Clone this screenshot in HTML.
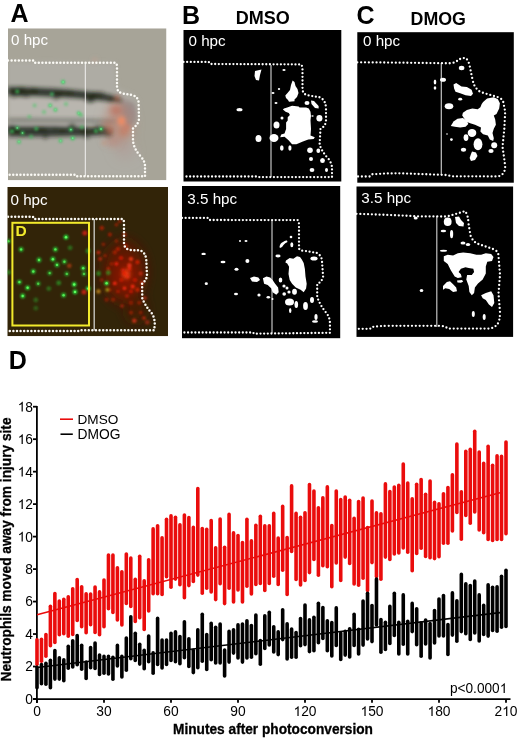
<!DOCTYPE html><html><head><meta charset="utf-8"><title>Figure</title><style>
html,body{margin:0;padding:0;background:#fff;width:520px;height:739px;overflow:hidden}
svg{display:block;will-change:transform}
text{font-family:"Liberation Sans",sans-serif}
.b{font-weight:bold}
</style></head><body>
<svg width="520" height="739" viewBox="0 0 520 739">
<defs>
<filter id="bl1" x="-50%" y="-50%" width="200%" height="200%"><feGaussianBlur stdDeviation="1"/></filter>
<filter id="bl2" x="-50%" y="-50%" width="200%" height="200%"><feGaussianBlur stdDeviation="2"/></filter>
<filter id="bl3" x="-50%" y="-50%" width="200%" height="200%"><feGaussianBlur stdDeviation="3.5"/></filter>
<filter id="bl5" x="-50%" y="-50%" width="200%" height="200%"><feGaussianBlur stdDeviation="6"/></filter>
<clipPath id="cA1"><rect x="8" y="28.3" width="158.5" height="152"/></clipPath>
<clipPath id="cA2"><rect x="7.3" y="187" width="160.7" height="149.2"/></clipPath>
</defs>
<text x="10.5" y="21.9" font-size="25" class="b">A</text>
<text x="182" y="23.5" font-size="25" class="b">B</text>
<text x="356.5" y="23.5" font-size="25" class="b">C</text>
<text x="235.8" y="23.5" font-size="18" class="b">DMSO</text>
<text x="410.6" y="25" font-size="17.8" class="b">DMOG</text>
<text x="8.8" y="368.6" font-size="25" class="b">D</text>
<g clip-path="url(#cA1)">
<rect x="8" y="28.3" width="158.5" height="152" fill="#a7a498"/>
<g filter="url(#bl2)">
<path d="M8,61 L115,63 L117,88 L133,95 L139,103 L139,119 L133,128 L133,141 L145,166 L145,176 L8,176Z" fill="#aeaca4"/>
<path d="M8,97 C50,98 90,100 118,104 L118,118 C80,118 40,117 8,117Z" fill="#b9b6af"/>
<path d="M120,98 L135,103 L137,120 L130,127 L124,124Z" fill="#928c8a" opacity="0.8"/>
</g>
<filter id="bl15" x="-20%" y="-50%" width="140%" height="200%"><feGaussianBlur stdDeviation="2.1"/></filter>
<g filter="url(#bl15)">
<path d="M8,87 C40,87.5 70,89.5 95,92.5 C108,94 116,96 121,99 L121,102.5 C113,101.5 104,100.5 95,99.5 C70,97 40,95.5 8,95Z" fill="#1a2116" opacity="0.85"/>
<path d="M8,118.8 C50,119 90,119 118,120.5 L118,122 C80,121.8 40,121.6 8,121.4Z" fill="#4a4c45" opacity="0.6"/>
<path d="M8,127 C40,126.5 80,127 110,128.5 L113,130.5 L111,135 C80,136 40,137 8,136.5Z" fill="#1a2116" opacity="0.82"/>
<ellipse cx="34.2" cy="130.1" rx="3.9" ry="1.6" fill="#141a10" opacity="0.31"/>
<ellipse cx="100.1" cy="128.6" rx="3.6" ry="2.3" fill="#141a10" opacity="0.46"/>
<ellipse cx="102.7" cy="127.7" rx="4.2" ry="2.5" fill="#141a10" opacity="0.33"/>
<ellipse cx="91.4" cy="96.6" rx="4.5" ry="1.9" fill="#141a10" opacity="0.54"/>
<ellipse cx="109.2" cy="134.7" rx="3.2" ry="2.7" fill="#141a10" opacity="0.48"/>
<ellipse cx="110.9" cy="100.1" rx="3.5" ry="1.9" fill="#141a10" opacity="0.57"/>
<ellipse cx="93.7" cy="130.6" rx="3.7" ry="2.3" fill="#141a10" opacity="0.46"/>
<ellipse cx="33.6" cy="91.2" rx="4.6" ry="3.0" fill="#141a10" opacity="0.57"/>
<ellipse cx="25.9" cy="95.2" rx="4.1" ry="1.8" fill="#141a10" opacity="0.63"/>
<ellipse cx="71.1" cy="126.7" rx="2.3" ry="2.7" fill="#141a10" opacity="0.46"/>
<ellipse cx="24.6" cy="90.4" rx="2.1" ry="2.4" fill="#141a10" opacity="0.32"/>
<ellipse cx="87.0" cy="135.7" rx="3.5" ry="3.0" fill="#141a10" opacity="0.42"/>
<ellipse cx="16.5" cy="92.5" rx="4.9" ry="1.9" fill="#141a10" opacity="0.41"/>
<ellipse cx="83.9" cy="129.7" rx="4.9" ry="2.8" fill="#141a10" opacity="0.45"/>
<ellipse cx="58.6" cy="94.1" rx="3.9" ry="2.9" fill="#141a10" opacity="0.50"/>
<ellipse cx="55.4" cy="128.6" rx="3.3" ry="1.9" fill="#141a10" opacity="0.42"/>
<ellipse cx="45.3" cy="136.9" rx="2.1" ry="2.4" fill="#141a10" opacity="0.55"/>
<ellipse cx="14.6" cy="131.1" rx="3.8" ry="1.9" fill="#141a10" opacity="0.50"/>
<ellipse cx="72.8" cy="126.2" rx="2.8" ry="2.2" fill="#141a10" opacity="0.54"/>
<ellipse cx="43.2" cy="129.4" rx="4.5" ry="1.9" fill="#141a10" opacity="0.61"/>
<ellipse cx="19.5" cy="94.5" rx="2.9" ry="1.8" fill="#141a10" opacity="0.62"/>
<ellipse cx="34.3" cy="90.0" rx="2.3" ry="2.0" fill="#141a10" opacity="0.43"/>
<ellipse cx="99.7" cy="95.7" rx="2.2" ry="2.6" fill="#141a10" opacity="0.39"/>
<ellipse cx="70.5" cy="92.7" rx="3.6" ry="1.8" fill="#141a10" opacity="0.62"/>
<ellipse cx="100.2" cy="93.6" rx="4.4" ry="2.0" fill="#141a10" opacity="0.35"/>
<ellipse cx="40.1" cy="129.0" rx="3.9" ry="1.9" fill="#141a10" opacity="0.53"/>
<ellipse cx="11.9" cy="128.2" rx="4.8" ry="2.8" fill="#141a10" opacity="0.69"/>
<ellipse cx="55.8" cy="97.6" rx="2.1" ry="2.2" fill="#141a10" opacity="0.60"/>
<ellipse cx="90.3" cy="99.7" rx="4.6" ry="2.8" fill="#141a10" opacity="0.69"/>
<ellipse cx="21.2" cy="89.7" rx="4.7" ry="2.8" fill="#141a10" opacity="0.53"/>
<ellipse cx="9.4" cy="127.9" rx="2.7" ry="1.5" fill="#141a10" opacity="0.51"/>
<ellipse cx="13.9" cy="95.0" rx="2.8" ry="2.8" fill="#141a10" opacity="0.49"/>
<ellipse cx="94.1" cy="94.7" rx="2.5" ry="2.7" fill="#141a10" opacity="0.67"/>
<ellipse cx="96.7" cy="126.1" rx="2.1" ry="1.9" fill="#141a10" opacity="0.41"/>
<ellipse cx="66.0" cy="93.7" rx="4.6" ry="2.7" fill="#141a10" opacity="0.32"/>
<ellipse cx="13.5" cy="91.3" rx="3.5" ry="2.2" fill="#141a10" opacity="0.36"/>
<ellipse cx="15.9" cy="130.3" rx="3.1" ry="1.8" fill="#141a10" opacity="0.43"/>
<ellipse cx="21.6" cy="133.9" rx="4.4" ry="2.4" fill="#141a10" opacity="0.32"/>
<ellipse cx="58.7" cy="95.3" rx="3.9" ry="2.1" fill="#141a10" opacity="0.45"/>
<ellipse cx="62.6" cy="130.6" rx="3.4" ry="1.9" fill="#141a10" opacity="0.51"/>
</g>
<g filter="url(#bl5)">
<ellipse cx="119" cy="124" rx="14" ry="22" fill="#b88070" opacity="0.55"/>
<ellipse cx="125" cy="150" rx="10" ry="10" fill="#b09590" opacity="0.4"/>
</g>
<g filter="url(#bl3)">
<ellipse cx="116" cy="110" rx="6" ry="5" fill="#c06048" opacity="0.7"/>
<ellipse cx="124" cy="131" rx="5" ry="5" fill="#d07050" opacity="0.7"/>
<ellipse cx="108" cy="126" rx="5" ry="4" fill="#b06048" opacity="0.6"/>
<ellipse cx="112" cy="142" rx="6" ry="4" fill="#c08070" opacity="0.5"/>
<ellipse cx="130" cy="112" rx="4" ry="5" fill="#a08080" opacity="0.5"/>
</g>
<g filter="url(#bl2)">
<ellipse cx="121.5" cy="121" rx="4" ry="4.5" fill="#f08a64"/>
<circle cx="117" cy="98" r="2.5" fill="#c86a50" opacity="0.8"/>
<circle cx="110" cy="131" r="2.2" fill="#d06a50" opacity="0.8"/>
<circle cx="127" cy="127" r="2.2" fill="#d87058" opacity="0.8"/>
<circle cx="95" cy="60" r="2" fill="#d0a090" opacity="0.7"/>
<circle cx="104" cy="143" r="2" fill="#d09070" opacity="0.7"/>
</g>
<g filter="url(#bl1)">
<circle cx="63.1" cy="82" r="2.2" fill="#3cc860" opacity="0.85"/>
<circle cx="17.3" cy="91.5" r="2.2" fill="#3cc860" opacity="0.59"/>
<circle cx="51.9" cy="94.1" r="2.2" fill="#3cc860" opacity="0.59"/>
<circle cx="50.2" cy="105.4" r="2.2" fill="#3cc860" opacity="0.68"/>
<circle cx="55.4" cy="109.7" r="2.2" fill="#3cc860" opacity="0.68"/>
<circle cx="34.6" cy="105.4" r="2.2" fill="#3cc860" opacity="0.42"/>
<circle cx="78.7" cy="113.1" r="2.2" fill="#3cc860" opacity="0.68"/>
<circle cx="29.4" cy="116.6" r="2.2" fill="#3cc860" opacity="0.42"/>
<circle cx="17.3" cy="127.9" r="2.2" fill="#3cc860" opacity="0.68"/>
<circle cx="22.5" cy="133" r="2.2" fill="#3cc860" opacity="0.68"/>
<circle cx="12.1" cy="131.3" r="2.2" fill="#3cc860" opacity="0.59"/>
<circle cx="36.3" cy="128.7" r="2.2" fill="#3cc860" opacity="0.59"/>
<circle cx="70.9" cy="129.6" r="2.2" fill="#3cc860" opacity="0.85"/>
<circle cx="72.7" cy="138.2" r="2.2" fill="#3cc860" opacity="0.85"/>
<circle cx="19" cy="141.7" r="2.2" fill="#3cc860" opacity="0.68"/>
<circle cx="60.6" cy="140.8" r="2.2" fill="#3cc860" opacity="0.68"/>
<circle cx="31.1" cy="136.5" r="2.2" fill="#3cc860" opacity="0.51"/>
<circle cx="80.9" cy="115" r="2.2" fill="#3cc860" opacity="0.51"/>
<circle cx="81.8" cy="127.3" r="2.2" fill="#3cc860" opacity="0.51"/>
<circle cx="101" cy="129" r="2.2" fill="#3cc860" opacity="0.85"/>
<circle cx="96" cy="131" r="2.2" fill="#3cc860" opacity="0.59"/>
<circle cx="44" cy="112" r="2.2" fill="#3cc860" opacity="0.42"/>
<circle cx="66" cy="104" r="2.2" fill="#3cc860" opacity="0.42"/>
</g>
<circle cx="63.1" cy="82" r="0.9" fill="#70f090" opacity="0.80"/>
<circle cx="50.2" cy="105.4" r="0.9" fill="#70f090" opacity="0.64"/>
<circle cx="55.4" cy="109.7" r="0.9" fill="#70f090" opacity="0.64"/>
<circle cx="78.7" cy="113.1" r="0.9" fill="#70f090" opacity="0.64"/>
<circle cx="17.3" cy="127.9" r="0.9" fill="#70f090" opacity="0.64"/>
<circle cx="22.5" cy="133" r="0.9" fill="#70f090" opacity="0.64"/>
<circle cx="70.9" cy="129.6" r="0.9" fill="#70f090" opacity="0.80"/>
<circle cx="72.7" cy="138.2" r="0.9" fill="#70f090" opacity="0.80"/>
<circle cx="19" cy="141.7" r="0.9" fill="#70f090" opacity="0.64"/>
<circle cx="60.6" cy="140.8" r="0.9" fill="#70f090" opacity="0.64"/>
<circle cx="101" cy="129" r="0.9" fill="#70f090" opacity="0.80"/>
<line x1="85.3" y1="63" x2="85.3" y2="176" stroke="#f2f2f0" stroke-width="1"/>
<path d="M8,60.4 L33,60.4 L34,62.8 L115,62.8 Q117,63 117,67 L117,88 Q118,93 124,93.7 L132,95 Q138.5,97 138.6,103 L139,119 Q138,125 133,128 L133,141 Q134,149 140,155.5 Q145,161 145,166 L145,176.3 L76,176.3 L75,174.8 L8,174.8" fill="none" stroke="#fbfaf5" stroke-width="2.5" stroke-linecap="round" stroke-dasharray="0 3.6"/>
<text x="11.0" y="44.7" font-size="15.2" fill="#fff">0 hpc</text>
</g>
<g clip-path="url(#cA2)">
<rect x="7.3" y="187" width="160.7" height="149.2" fill="#322408"/>
<g filter="url(#bl5)">
<ellipse cx="124" cy="272" rx="22" ry="32" fill="#5c1a06" opacity="0.9"/>
<ellipse cx="126" cy="276" rx="14" ry="18" fill="#901806" opacity="0.8"/>
<ellipse cx="136" cy="310" rx="10" ry="14" fill="#4a1606" opacity="0.8"/>
</g>
<g filter="url(#bl2)"><ellipse cx="126" cy="274" rx="4" ry="5" fill="#ff4a18" opacity="0.85"/></g>
<g filter="url(#bl1)">
<circle cx="101.8" cy="228" r="2.3" fill="#d81c08" opacity="0.63"/>
<circle cx="109.9" cy="234.5" r="2.0" fill="#d81c08" opacity="0.63"/>
<circle cx="116.4" cy="224.8" r="1.7" fill="#e82008" opacity="0.55"/>
<circle cx="116.4" cy="241" r="1.7" fill="#e82008" opacity="0.49"/>
<circle cx="98.5" cy="252.4" r="2.0" fill="#ff2a10" opacity="0.64"/>
<circle cx="100.1" cy="258.9" r="2.1" fill="#ff2a10" opacity="0.52"/>
<circle cx="114.8" cy="252.4" r="2.1" fill="#d81c08" opacity="0.57"/>
<circle cx="118" cy="249.1" r="2.1" fill="#e82008" opacity="0.62"/>
<circle cx="111.5" cy="263.8" r="1.6" fill="#ff2a10" opacity="0.47"/>
<circle cx="116.4" cy="263.8" r="2.1" fill="#e82008" opacity="0.87"/>
<circle cx="131" cy="258.9" r="2.0" fill="#ff3818" opacity="0.89"/>
<circle cx="137.5" cy="262.2" r="2.1" fill="#e82008" opacity="0.77"/>
<circle cx="129.4" cy="268.7" r="2.0" fill="#ff2a10" opacity="0.70"/>
<circle cx="140.8" cy="273.5" r="2.2" fill="#ff2a10" opacity="0.50"/>
<circle cx="121.3" cy="280" r="2.0" fill="#e82008" opacity="0.61"/>
<circle cx="114.8" cy="283.3" r="1.9" fill="#ff2a10" opacity="0.90"/>
<circle cx="118" cy="291.4" r="1.7" fill="#d81c08" opacity="0.61"/>
<circle cx="124.5" cy="288.2" r="1.8" fill="#ff2a10" opacity="0.92"/>
<circle cx="132.7" cy="286.5" r="2.0" fill="#ff2a10" opacity="0.94"/>
<circle cx="131" cy="291.4" r="1.9" fill="#d81c08" opacity="0.80"/>
<circle cx="137.5" cy="289.8" r="2.2" fill="#e82008" opacity="0.69"/>
<circle cx="101.8" cy="280" r="1.8" fill="#ff2a10" opacity="0.42"/>
<circle cx="106.6" cy="299.6" r="2.2" fill="#d81c08" opacity="0.45"/>
<circle cx="113.1" cy="299.6" r="2.2" fill="#e82008" opacity="0.42"/>
<circle cx="131" cy="302.8" r="2.2" fill="#d81c08" opacity="0.46"/>
<circle cx="139.2" cy="302.8" r="2.0" fill="#e82008" opacity="0.47"/>
<circle cx="131" cy="312.6" r="1.9" fill="#e82008" opacity="0.51"/>
<circle cx="140.8" cy="312.6" r="1.9" fill="#d81c08" opacity="0.47"/>
<circle cx="134.3" cy="320.7" r="2.3" fill="#ff3818" opacity="0.66"/>
<circle cx="147.3" cy="322.3" r="2.4" fill="#ff3818" opacity="0.42"/>
<circle cx="124.5" cy="273.5" r="1.9" fill="#e82008" opacity="0.90"/>
<circle cx="127.8" cy="276.8" r="1.6" fill="#ff2a10" opacity="0.65"/>
<circle cx="122.9" cy="270.3" r="1.8" fill="#d81c08" opacity="0.87"/>
<circle cx="129.4" cy="265.4" r="2.3" fill="#ff3818" opacity="0.74"/>
<circle cx="108.3" cy="268.7" r="1.7" fill="#ff2a10" opacity="0.56"/>
<circle cx="105" cy="255.7" r="1.6" fill="#e82008" opacity="0.51"/>
<circle cx="103.4" cy="244.3" r="1.7" fill="#d81c08" opacity="0.56"/>
<circle cx="124.5" cy="234.5" r="2.3" fill="#e82008" opacity="0.46"/>
<circle cx="119.6" cy="221.5" r="1.8" fill="#e82008" opacity="0.48"/>
<circle cx="126" cy="246" r="2.2" fill="#e82008" opacity="0.46"/>
<circle cx="121" cy="258" r="2.1" fill="#e82008" opacity="0.74"/>
<circle cx="135" cy="280" r="2.1" fill="#d81c08" opacity="0.75"/>
<circle cx="127" cy="296" r="1.7" fill="#ff2a10" opacity="0.55"/>
<circle cx="145" cy="298" r="1.8" fill="#ff3818" opacity="0.59"/>
<circle cx="142" cy="283" r="1.9" fill="#ff3818" opacity="0.64"/>
<circle cx="110" cy="290" r="1.8" fill="#d81c08" opacity="0.46"/>
<circle cx="122" cy="306" r="1.7" fill="#ff2a10" opacity="0.54"/>
<circle cx="144" cy="318" r="1.8" fill="#ff2a10" opacity="0.64"/>
</g>
<g filter="url(#bl1)">
<circle cx="66" cy="237.2" r="2.4" fill="#28d838" opacity="1.00"/>
<circle cx="21.1" cy="249.4" r="2.4" fill="#28d838" opacity="0.80"/>
<circle cx="55.4" cy="249.4" r="2.4" fill="#28d838" opacity="0.80"/>
<circle cx="70.1" cy="247.8" r="2.4" fill="#28d838" opacity="0.40"/>
<circle cx="39" cy="260" r="2.4" fill="#28d838" opacity="0.80"/>
<circle cx="52.9" cy="259.2" r="2.4" fill="#28d838" opacity="0.90"/>
<circle cx="57" cy="264.9" r="2.4" fill="#28d838" opacity="0.80"/>
<circle cx="64.4" cy="261.7" r="2.4" fill="#28d838" opacity="0.70"/>
<circle cx="83.2" cy="268.2" r="2.4" fill="#28d838" opacity="0.80"/>
<circle cx="33.3" cy="271.5" r="2.4" fill="#28d838" opacity="0.80"/>
<circle cx="49.7" cy="273.1" r="2.4" fill="#28d838" opacity="0.60"/>
<circle cx="66.8" cy="273.9" r="2.4" fill="#28d838" opacity="0.60"/>
<circle cx="84" cy="273.9" r="2.4" fill="#28d838" opacity="0.60"/>
<circle cx="19.4" cy="282.1" r="2.4" fill="#28d838" opacity="0.80"/>
<circle cx="38.2" cy="283.7" r="2.4" fill="#28d838" opacity="0.60"/>
<circle cx="58.7" cy="282.9" r="2.4" fill="#28d838" opacity="0.50"/>
<circle cx="74.2" cy="284.5" r="2.4" fill="#28d838" opacity="1.00"/>
<circle cx="27.6" cy="287.8" r="2.4" fill="#28d838" opacity="0.90"/>
<circle cx="75" cy="291.9" r="2.4" fill="#28d838" opacity="1.00"/>
<circle cx="22.7" cy="296" r="2.4" fill="#28d838" opacity="0.90"/>
<circle cx="63.6" cy="295.2" r="2.4" fill="#28d838" opacity="0.80"/>
<circle cx="88.1" cy="288.6" r="2.4" fill="#28d838" opacity="0.90"/>
<circle cx="48.8" cy="288.6" r="2.4" fill="#28d838" opacity="0.40"/>
<circle cx="35.8" cy="300" r="2.4" fill="#28d838" opacity="0.35"/>
<circle cx="35.8" cy="308.2" r="2.4" fill="#28d838" opacity="0.30"/>
<circle cx="8.5" cy="241.2" r="2.4" fill="#28d838" opacity="0.60"/>
<circle cx="8.5" cy="272.3" r="2.4" fill="#28d838" opacity="0.50"/>
<circle cx="88" cy="251" r="2.4" fill="#28d838" opacity="0.50"/>
<circle cx="106.6" cy="283.3" r="2.4" fill="#28d838" opacity="0.90"/>
<circle cx="98.5" cy="273.5" r="2.4" fill="#28d838" opacity="0.50"/>
<circle cx="108.3" cy="272.7" r="2.4" fill="#28d838" opacity="0.50"/>
</g>
<g>
<circle cx="66" cy="237.2" r="1.2" fill="#60ff60" opacity="1.00"/>
<circle cx="21.1" cy="249.4" r="1.2" fill="#60ff60" opacity="0.80"/>
<circle cx="55.4" cy="249.4" r="1.2" fill="#60ff60" opacity="0.80"/>
<circle cx="39" cy="260" r="1.2" fill="#60ff60" opacity="0.80"/>
<circle cx="52.9" cy="259.2" r="1.2" fill="#60ff60" opacity="0.90"/>
<circle cx="57" cy="264.9" r="1.2" fill="#60ff60" opacity="0.80"/>
<circle cx="64.4" cy="261.7" r="1.2" fill="#60ff60" opacity="0.70"/>
<circle cx="83.2" cy="268.2" r="1.2" fill="#60ff60" opacity="0.80"/>
<circle cx="33.3" cy="271.5" r="1.2" fill="#60ff60" opacity="0.80"/>
<circle cx="49.7" cy="273.1" r="1.2" fill="#60ff60" opacity="0.60"/>
<circle cx="66.8" cy="273.9" r="1.2" fill="#60ff60" opacity="0.60"/>
<circle cx="84" cy="273.9" r="1.2" fill="#60ff60" opacity="0.60"/>
<circle cx="19.4" cy="282.1" r="1.2" fill="#60ff60" opacity="0.80"/>
<circle cx="38.2" cy="283.7" r="1.2" fill="#60ff60" opacity="0.60"/>
<circle cx="74.2" cy="284.5" r="1.2" fill="#60ff60" opacity="1.00"/>
<circle cx="27.6" cy="287.8" r="1.2" fill="#60ff60" opacity="0.90"/>
<circle cx="75" cy="291.9" r="1.2" fill="#60ff60" opacity="1.00"/>
<circle cx="22.7" cy="296" r="1.2" fill="#60ff60" opacity="0.90"/>
<circle cx="63.6" cy="295.2" r="1.2" fill="#60ff60" opacity="0.80"/>
<circle cx="88.1" cy="288.6" r="1.2" fill="#60ff60" opacity="0.90"/>
<circle cx="8.5" cy="241.2" r="1.2" fill="#60ff60" opacity="0.60"/>
<circle cx="106.6" cy="283.3" r="1.2" fill="#60ff60" opacity="0.90"/>
</g>
<g filter="url(#bl1)"><circle cx="84.8" cy="233" r="2.5" fill="#e02010" opacity="0.8"/><circle cx="69.3" cy="265.8" r="2.3" fill="#c04010" opacity="0.7"/><circle cx="84" cy="291.9" r="2.5" fill="#e02010" opacity="0.8"/><circle cx="107.4" cy="289.8" r="2" fill="#c0c020" opacity="0.7"/><circle cx="98.5" cy="291.4" r="2.2" fill="#e0a020" opacity="0.7"/></g>
<rect x="12.4" y="222.8" width="76.6" height="102.7" fill="none" stroke="#f2ea2c" stroke-width="2"/>
<text x="15.4" y="236.3" font-size="15.5" class="b" fill="#f2ea2c">D</text>
<line x1="94.2" y1="219" x2="94.2" y2="330.5" stroke="#d0d0cc" stroke-width="1.3"/>
<path d="M8,216.7 L33,216.7 L34,219 L122.6,219 Q124,220 124,223 L124,245 Q126,250 131,250 L140.6,250.5 Q146,253 146.3,260.6 L147,275.8 Q146,281 142.1,283.3 L142.3,298.5 Q146,307 152,313.6 Q154.8,318 154.8,325 L154,330.3 L80,330.3 L79,331 L8,331" fill="none" stroke="#fbfaf5" stroke-width="2.5" stroke-linecap="round" stroke-dasharray="0 3.6"/>
<text x="10.5" y="204.8" font-size="15.2" fill="#fff">0 hpc</text>
</g>
<rect x="183.5" y="30" width="157.8" height="151.5" fill="#000"/>
<rect x="182" y="186" width="158.2" height="152.2" fill="#000"/>
<rect x="357.3" y="32.2" width="156.5" height="150.5" fill="#000"/>
<rect x="356.5" y="186.5" width="156.6" height="150.4" fill="#000"/>
<line x1="271" y1="65" x2="271" y2="177" stroke="#c4c4c4" stroke-width="1.2"/>
<path d="M287.2,107.5 L292.1,105.8 L298.6,106.4 L299.6,107.5 L306.1,107.5 L308.8,108.5 L310.5,111.8 L311,116.1 L310.5,120.5 L311,129.1 L310.5,135.6 L314.8,137.2 L313.7,138.9 L308.3,139.4 L302.9,141.6 L296.4,144.3 L292.1,144.3 L288.3,139.9 L284.5,136.7 L280.2,137.2 L281.2,134.5 L284.5,133.4 L286.1,129.1 L286.1,122.6 L287.7,120.5 L287.7,117.2 L289.9,115 L288.8,112.9 L285.6,111.8 L282.9,109.6 L284,108.5Z" fill="#fff"/>
<path d="M292.6,80.5 L294.5,82 L295.5,86 L297.5,89 L298.5,93 L297,97 L294.5,99.5 L294.5,101.3 L289,101.8 L288,100 L286,98 L285.3,95.5 L287.5,93 L290,90 L291,85Z" fill="#fff"/>
<path d="M255,71 L261.5,69.6 L260,75 L259,80.4 L256,80 L254.5,76Z" fill="#fff"/>
<ellipse cx="258.5" cy="138.5" rx="3" ry="3.5" fill="#fff"/>
<ellipse cx="274" cy="138" rx="4.5" ry="4" fill="#fff"/>
<ellipse cx="276.5" cy="125" rx="3" ry="3.5" fill="#fff"/>
<ellipse cx="307" cy="103" rx="2.5" ry="2" fill="#fff"/>
<path d="M311,100.4 L314,101 L318.6,106 L318.6,108.5 L315,108 L311.5,104Z" fill="#fff"/>
<ellipse cx="319.4" cy="118.2" rx="3" ry="3.3" fill="#fff"/>
<ellipse cx="281.8" cy="148" rx="1.8" ry="2.8" fill="#fff"/>
<ellipse cx="289.9" cy="148" rx="1.6" ry="2.8" fill="#fff"/>
<ellipse cx="310" cy="150.2" rx="2.8" ry="2.7" fill="#fff"/>
<ellipse cx="318.3" cy="150.8" rx="1.9" ry="2.2" fill="#fff"/>
<ellipse cx="311" cy="159" rx="2" ry="2" fill="#fff"/>
<ellipse cx="322.5" cy="160.5" rx="2.4" ry="2.5" fill="#fff"/>
<ellipse cx="312" cy="170" rx="2.4" ry="2" fill="#fff"/>
<ellipse cx="326.5" cy="170" rx="1.5" ry="2" fill="#fff"/>
<ellipse cx="239.5" cy="109.7" rx="3" ry="1.6" fill="#fff"/>
<ellipse cx="273" cy="93" rx="1.5" ry="1" fill="#fff"/>
<ellipse cx="284" cy="70" rx="1.6" ry="1" fill="#fff"/>
<ellipse cx="279" cy="89" rx="1.2" ry="1" fill="#fff"/>
<ellipse cx="276" cy="103" rx="1.5" ry="1" fill="#fff"/>
<ellipse cx="282" cy="118" rx="1.5" ry="1.5" fill="#fff"/>
<ellipse cx="312.5" cy="116" rx="1.2" ry="0.7" fill="#fff"/>
<path d="M183.5,61.9 L208.7,61.9 L210,64 L301,64.4 Q302.5,66 302.5,70 L302.5,90 Q303.5,95 309,95.5 L319.6,97.3 Q326,100 326,109 L326,121.4 Q325,127 320.5,128.6 L319.6,144.6 Q322,152 328.6,159 Q332,164 332,168 L332,177.1 L257,177.1 L256,176.5 L183.5,176.5" fill="none" stroke="#fff" stroke-width="2.3" stroke-linecap="round" stroke-dasharray="0 3.65"/>
<text x="188.5" y="45.6" font-size="15.2" fill="#fff">0 hpc</text>
<line x1="272" y1="220" x2="272" y2="333" stroke="#c4c4c4" stroke-width="1.2"/>
<path d="M286,260.6 L289.7,258.1 L293.3,258.8 L297,256.3 L300,256.9 L301.8,259.4 L303.7,263 L304.9,269.1 L305.5,276.4 L306.7,283.7 L306.1,288.6 L303.7,292.2 L300.6,289.8 L295.8,287.4 L292.1,283.7 L289.7,280.1 L288.5,274 L289.1,266.7 L287.2,263.6 L285.4,262.4Z" fill="#fff"/>
<path d="M262.9,278.2 L266.5,276.4 L270.2,277.6 L272.6,280.1 L275.1,283.7 L278.1,287.4 L278.7,292.2 L276.3,294.7 L272.6,292.2 L271.4,288.6 L267.7,284.9 L264.1,283.7Z" fill="#fff"/>
<path d="M250,278 L254,276.5 L258.4,277.5 L260,280 L257,282 L252,281.5Z" fill="#fff"/>
<ellipse cx="246" cy="241" rx="1.5" ry="1" fill="#fff"/>
<ellipse cx="240" cy="241" rx="1" ry="1" fill="#fff"/>
<ellipse cx="203.6" cy="253.9" rx="2.2" ry="1.2" fill="#fff"/>
<ellipse cx="223" cy="262" rx="2.5" ry="1.3" fill="#fff"/>
<ellipse cx="247.4" cy="261" rx="2" ry="2" fill="#fff"/>
<ellipse cx="236.5" cy="269.3" rx="2" ry="1.5" fill="#fff"/>
<ellipse cx="206.3" cy="283.7" rx="1.6" ry="1.4" fill="#fff"/>
<ellipse cx="236" cy="294" rx="2" ry="1.2" fill="#fff"/>
<ellipse cx="259" cy="295" rx="1.6" ry="1.6" fill="#fff"/>
<ellipse cx="268.3" cy="297.2" rx="1.8" ry="1.2" fill="#fff"/>
<ellipse cx="272.5" cy="299" rx="1" ry="1" fill="#fff"/>
<path d="M279.5,247 Q280,243 283,242 Q285,240 287,240.5 L287.5,242 Q285,243 283.5,245 Q282,248 280,248Z" fill="#fff"/>
<ellipse cx="291.8" cy="244.8" rx="1.5" ry="2.5" fill="#fff"/>
<ellipse cx="291" cy="237" rx="1.3" ry="1.3" fill="#fff"/>
<ellipse cx="278" cy="256" rx="2.6" ry="1.4" fill="#fff"/>
<ellipse cx="314" cy="258.5" rx="3.6" ry="2" fill="#fff"/>
<ellipse cx="280.5" cy="280" rx="1.8" ry="2.5" fill="#fff"/>
<ellipse cx="284" cy="286" rx="1.6" ry="1.6" fill="#fff"/>
<ellipse cx="287" cy="288" rx="1.5" ry="1.5" fill="#fff"/>
<ellipse cx="284.2" cy="294" rx="1.8" ry="1.8" fill="#fff"/>
<ellipse cx="289" cy="292" rx="1.6" ry="1.6" fill="#fff"/>
<ellipse cx="294.5" cy="291.7" rx="2.4" ry="3" fill="#fff"/>
<ellipse cx="289.5" cy="302" rx="4.5" ry="3.5" fill="#fff"/>
<ellipse cx="296.3" cy="304.5" rx="1.8" ry="3.6" fill="#fff"/>
<ellipse cx="290.2" cy="310.5" rx="1.2" ry="2.5" fill="#fff"/>
<ellipse cx="305.5" cy="306" rx="2.4" ry="4" fill="#fff"/>
<ellipse cx="312" cy="300" rx="2" ry="3" fill="#fff"/>
<ellipse cx="316" cy="317" rx="1.6" ry="3" fill="#fff"/>
<ellipse cx="315" cy="321.5" rx="3" ry="1.3" fill="#fff"/>
<path d="M182,217.9 L208.7,217.9 L210,220 L297.6,220.1 Q299,221 299,225 L299,248.5 Q300,251 304,250.7 L317,253 Q322,256 322,261.6 L323.1,276.5 Q322,282 317.2,284 L317.2,297 Q320,305 325.6,312 Q329.9,317 329.9,323 L330,332.8 L254,333.7 L253,332.5 L182,332.5" fill="none" stroke="#fff" stroke-width="2.3" stroke-linecap="round" stroke-dasharray="0 3.65"/>
<text x="187.3" y="204.3" font-size="15.2" fill="#fff">3.5 hpc</text>
<line x1="441.3" y1="63" x2="441.3" y2="175" stroke="#c4c4c4" stroke-width="1.2"/>
<path d="M483.1,101.9 L487.1,98.6 L493.8,97.2 L497.9,99.2 L499.9,103.3 L499.2,108.6 L496.5,114 L493.8,115.4 L495.2,119.4 L495.9,124.8 L493.8,128.8 L492.5,132.9 L493.8,138.3 L493.2,141 L489.8,139.6 L487.8,135.6 L483.1,134.2 L480.4,131.5 L481,127.5 L477.7,126.1 L475,124.8 L471,123.5 L466.9,122.1 L464.9,119.4 L462.2,115.4 L462.9,112.7 L466.9,110 L472.3,108.6 L477.7,109.3 L480.4,107.3 L481.7,103.9Z" fill="#fff"/>
<path d="M450.8,126.1 L453.5,121.4 L457.5,118.7 L462.9,118.1 L466.9,120.8 L468.3,124.1 L465.6,126.8 L460.2,127.5 L454.8,126.8Z" fill="#fff"/>
<path d="M453.5,84.4 L456.2,83.1 L461.5,86.4 L466.9,87.1 L471.6,89.8 L473,93.8 L471,95.9 L465.6,95.2 L460.2,93.2 L455.5,91.8 L454.1,88.5Z" fill="#fff"/>
<ellipse cx="449" cy="106.3" rx="4.3" ry="3" fill="#fff"/>
<ellipse cx="460.2" cy="99.2" rx="2" ry="1.4" fill="#fff"/>
<ellipse cx="466" cy="137.6" rx="2.4" ry="3.4" fill="#fff"/>
<ellipse cx="472" cy="132.9" rx="4.3" ry="4" fill="#fff"/>
<ellipse cx="478" cy="144.3" rx="4.4" ry="6" fill="#fff"/>
<ellipse cx="494.2" cy="145.3" rx="3" ry="3" fill="#fff"/>
<ellipse cx="463.5" cy="149.7" rx="2.7" ry="2" fill="#fff"/>
<path d="M472,151.5 L476,152.5 L477.5,156 L475,160 L471,161 L469.6,158 L471,154Z" fill="#fff"/>
<ellipse cx="491" cy="151" rx="2.6" ry="2" fill="#fff"/>
<ellipse cx="451.4" cy="139.6" rx="1.4" ry="1.4" fill="#fff"/>
<ellipse cx="443" cy="79.7" rx="3" ry="2" fill="#fff"/>
<ellipse cx="461.6" cy="68" rx="2.8" ry="2.2" fill="#fff"/>
<ellipse cx="435" cy="82" rx="1.3" ry="2.5" fill="#fff"/>
<ellipse cx="435" cy="88" rx="1.3" ry="1.8" fill="#fff"/>
<ellipse cx="447" cy="134" rx="0.8" ry="0.8" fill="#fff"/>
<path d="M357.3,62.3 L385,62.5 L452,63.3 Q457,61.5 459,59.5 Q462,58 465.6,57.9 Q469,61 470,67.6 L472.6,80 Q474,86 476.1,87.9 Q478,91 481.4,92.3 L490.2,94.9 L499,97.5 Q503,99.5 503.4,102.8 L505.2,111.6 L504.3,129.2 L502.5,146.8 L504.3,159.2 L505.2,166.2 Q505,172 502.5,174.1 Q500,176.4 497.3,176.4 L452,176.3 L446,175 L400,173.3 L385,173.5 L372,174.3 L370,176.5 L357.3,176.5" fill="none" stroke="#fff" stroke-width="2.3" stroke-linecap="round" stroke-dasharray="0 3.85"/>
<text x="363.0" y="46.0" font-size="15.2" fill="#fff">0 hpc</text>
<line x1="436.8" y1="216" x2="436.8" y2="327" stroke="#c4c4c4" stroke-width="1.2"/>
<path d="M443.8,256.3 L447.7,254.8 L453.1,255.5 L457.8,253.2 L463.2,252.4 L470.2,253.2 L476.4,254.8 L481.1,254.8 L485.8,253.2 L491.2,254 L493.5,257.1 L492,261 L487.3,261.8 L485.8,266.4 L485.8,273.4 L482.7,279.6 L478,283.5 L474.9,287.4 L474.1,292.9 L471.8,295.2 L469.4,292.1 L468.7,285.9 L466.3,279.6 L467.1,275 L471.8,275 L474.1,271.9 L473.3,268.8 L468.7,268 L465.5,267.2 L460.9,268.8 L458.6,271.9 L460.9,274.2 L461.7,277.3 L457.8,278.1 L454.7,276.5 L450.8,270.3 L447.7,264.1 L443.8,261Z" fill="#fff"/>
<path d="M443,285.9 L446.9,282 L450,281.2 L453.1,284.3 L456.2,287.4 L457,291.3 L453.1,292.1 L449.2,289 L445.3,288.2 L443,289.8Z" fill="#fff"/>
<path d="M481.1,295.2 L485.8,292.9 L491.2,291.3 L493.5,295.2 L494.3,303 L492,306.9 L488.9,304.5 L485.8,299.9 L482.7,298.3Z" fill="#fff"/>
<path d="M457,280.4 L462,280 L463.2,281.5 L461,282.8 L457.5,282.5Z" fill="#fff"/>
<ellipse cx="447.7" cy="221.7" rx="3.9" ry="4.3" fill="#fff"/>
<path d="M455,217 L459,216.5 L461,220 L464,223 L463.5,226.5 L459,226 L456,223Z" fill="#fff"/>
<ellipse cx="451.6" cy="234.1" rx="1.6" ry="4.2" fill="#fff"/>
<ellipse cx="443.4" cy="231" rx="2.7" ry="1.3" fill="#fff"/>
<ellipse cx="463" cy="243" rx="2.5" ry="1.6" fill="#fff"/>
<ellipse cx="468" cy="244.5" rx="2.2" ry="1.6" fill="#fff"/>
<ellipse cx="443.5" cy="250.8" rx="3.5" ry="1" fill="#fff"/>
<ellipse cx="473.3" cy="314" rx="1.5" ry="3" fill="#fff"/>
<ellipse cx="484.2" cy="317" rx="1.5" ry="3" fill="#fff"/>
<ellipse cx="421.5" cy="290.5" rx="1.8" ry="1.6" fill="#fff"/>
<ellipse cx="415.7" cy="217.9" rx="2" ry="1.5" fill="#fff"/>
<path d="M356.5,213.8 L390,215 L420,216.4 L447,216.5 Q456,214 464.9,211.2 Q468,214 468.6,224.3 L470.5,235.5 Q473,242 478,243.9 L492.9,249 Q498.5,251 498.5,256 L500,274.8 L498.5,293.5 L500,312 Q500,322 496.6,325.2 Q493,328.6 488,328.6 L448,328.6 Q445,326 440,325.8 L390,325.8 Q378,326 372,327 L370,328.8 L356.5,328.8" fill="none" stroke="#fff" stroke-width="2.3" stroke-linecap="round" stroke-dasharray="0 3.85"/>
<text x="361.3" y="202.7" font-size="15.2" fill="#fff">3.5 hpc</text>
<g stroke="#000" stroke-width="1.8" fill="none">
<line x1="36.9" y1="406" x2="36.9" y2="703"/>
<line x1="33" y1="699.1" x2="510.5" y2="699.1"/>
<line x1="33" y1="699.00" x2="37" y2="699.00"/>
<line x1="33" y1="666.52" x2="37" y2="666.52"/>
<line x1="33" y1="634.04" x2="37" y2="634.04"/>
<line x1="33" y1="601.57" x2="37" y2="601.57"/>
<line x1="33" y1="569.09" x2="37" y2="569.09"/>
<line x1="33" y1="536.61" x2="37" y2="536.61"/>
<line x1="33" y1="504.13" x2="37" y2="504.13"/>
<line x1="33" y1="471.66" x2="37" y2="471.66"/>
<line x1="33" y1="439.18" x2="37" y2="439.18"/>
<line x1="33" y1="406.70" x2="37" y2="406.70"/>
<line x1="37.00" y1="699" x2="37.00" y2="702.8"/>
<line x1="104.00" y1="699" x2="104.00" y2="702.8"/>
<line x1="171.00" y1="699" x2="171.00" y2="702.8"/>
<line x1="238.00" y1="699" x2="238.00" y2="702.8"/>
<line x1="305.00" y1="699" x2="305.00" y2="702.8"/>
<line x1="372.00" y1="699" x2="372.00" y2="702.8"/>
<line x1="439.00" y1="699" x2="439.00" y2="702.8"/>
<line x1="506.00" y1="699" x2="506.00" y2="702.8"/>
</g>
<g transform="translate(25.33,703.90) scale(1,1.04)"><text x="0" y="0" font-size="13.8">0</text></g>
<g transform="translate(25.33,671.42) scale(1,1.04)"><text x="0" y="0" font-size="13.8">2</text></g>
<g transform="translate(25.33,638.94) scale(1,1.04)"><text x="0" y="0" font-size="13.8">4</text></g>
<g transform="translate(25.33,606.47) scale(1,1.04)"><text x="0" y="0" font-size="13.8">6</text></g>
<g transform="translate(25.33,573.99) scale(1,1.04)"><text x="0" y="0" font-size="13.8">8</text></g>
<g transform="translate(17.65,541.51) scale(1,1.04)"><text x="0" y="0" font-size="13.8"> 0</text><path d="M763 0H583V1147Q518 1085 412.5 1023T223 930V1104Q374 1175 487 1276T647 1472H763Z" transform="translate(0.00,0) scale(0.00674,-0.00645)"/></g>
<g transform="translate(17.65,509.03) scale(1,1.04)"><text x="0" y="0" font-size="13.8"> 2</text><path d="M763 0H583V1147Q518 1085 412.5 1023T223 930V1104Q374 1175 487 1276T647 1472H763Z" transform="translate(0.00,0) scale(0.00674,-0.00645)"/></g>
<g transform="translate(17.65,476.56) scale(1,1.04)"><text x="0" y="0" font-size="13.8"> 4</text><path d="M763 0H583V1147Q518 1085 412.5 1023T223 930V1104Q374 1175 487 1276T647 1472H763Z" transform="translate(0.00,0) scale(0.00674,-0.00645)"/></g>
<g transform="translate(17.65,444.08) scale(1,1.04)"><text x="0" y="0" font-size="13.8"> 6</text><path d="M763 0H583V1147Q518 1085 412.5 1023T223 930V1104Q374 1175 487 1276T647 1472H763Z" transform="translate(0.00,0) scale(0.00674,-0.00645)"/></g>
<g transform="translate(17.65,411.60) scale(1,1.04)"><text x="0" y="0" font-size="13.8"> 8</text><path d="M763 0H583V1147Q518 1085 412.5 1023T223 930V1104Q374 1175 487 1276T647 1472H763Z" transform="translate(0.00,0) scale(0.00674,-0.00645)"/></g>
<g transform="translate(33.16,716.00) scale(1,1.04)"><text x="0" y="0" font-size="13.8">0</text></g>
<g transform="translate(96.33,716.00) scale(1,1.04)"><text x="0" y="0" font-size="13.8">30</text></g>
<g transform="translate(163.33,716.00) scale(1,1.04)"><text x="0" y="0" font-size="13.8">60</text></g>
<g transform="translate(230.33,716.00) scale(1,1.04)"><text x="0" y="0" font-size="13.8">90</text></g>
<g transform="translate(293.49,716.00) scale(1,1.04)"><text x="0" y="0" font-size="13.8"> 20</text><path d="M763 0H583V1147Q518 1085 412.5 1023T223 930V1104Q374 1175 487 1276T647 1472H763Z" transform="translate(0.00,0) scale(0.00674,-0.00645)"/></g>
<g transform="translate(360.49,716.00) scale(1,1.04)"><text x="0" y="0" font-size="13.8"> 50</text><path d="M763 0H583V1147Q518 1085 412.5 1023T223 930V1104Q374 1175 487 1276T647 1472H763Z" transform="translate(0.00,0) scale(0.00674,-0.00645)"/></g>
<g transform="translate(427.49,716.00) scale(1,1.04)"><text x="0" y="0" font-size="13.8"> 80</text><path d="M763 0H583V1147Q518 1085 412.5 1023T223 930V1104Q374 1175 487 1276T647 1472H763Z" transform="translate(0.00,0) scale(0.00674,-0.00645)"/></g>
<g transform="translate(494.49,716.00) scale(1,1.04)"><text x="0" y="0" font-size="13.8">2 0</text><path d="M763 0H583V1147Q518 1085 412.5 1023T223 930V1104Q374 1175 487 1276T647 1472H763Z" transform="translate(7.67,0) scale(0.00674,-0.00645)"/></g>
<text transform="translate(273,734.1) scale(1,1.05)" font-size="13.7" class="b" text-anchor="middle" stroke="#000" stroke-width="0.3">Minutes after photoconversion</text>
<text transform="translate(10.9,549.5) rotate(-90) scale(1,1.06)" font-size="13.7" class="b" text-anchor="middle" stroke="#000" stroke-width="0.3">Neutrophils moved away from injury site</text>
<g transform="translate(449.99,693.10) scale(1,1.06)"><text x="0" y="0" font-size="13.65">p&lt;0.000 </text><path d="M763 0H583V1147Q518 1085 412.5 1023T223 930V1104Q374 1175 487 1276T647 1472H763Z" transform="translate(49.72,0) scale(0.00667,-0.00638)"/></g>
<line x1="60" y1="419.2" x2="73" y2="419.2" stroke="#ea0c0c" stroke-width="1.6"/>
<line x1="60.5" y1="434.2" x2="72.8" y2="434.2" stroke="#000" stroke-width="1.6"/>
<text x="77.5" y="423.7" font-size="13.6">DMSO</text>
<text x="77.5" y="438.7" font-size="13.8">DMOG</text>
<g stroke="#ea0c0c" stroke-width="3.6" stroke-linecap="round">
<line x1="37.00" y1="639.7" x2="37.00" y2="664.2"/>
<line x1="41.47" y1="639.3" x2="41.47" y2="661.3"/>
<line x1="45.93" y1="634.5" x2="45.93" y2="656.2"/>
<line x1="50.40" y1="606.3" x2="50.40" y2="645.7"/>
<line x1="54.87" y1="593.5" x2="54.87" y2="642.5"/>
<line x1="59.33" y1="601.1" x2="59.33" y2="634.7"/>
<line x1="63.80" y1="599.3" x2="63.80" y2="633.7"/>
<line x1="68.27" y1="596.7" x2="68.27" y2="636.2"/>
<line x1="72.73" y1="588.8" x2="72.73" y2="634.4"/>
<line x1="77.20" y1="579.6" x2="77.20" y2="620.5"/>
<line x1="81.67" y1="586.7" x2="81.67" y2="626.7"/>
<line x1="86.13" y1="593.7" x2="86.13" y2="632.7"/>
<line x1="90.60" y1="594.1" x2="90.60" y2="624.7"/>
<line x1="95.07" y1="587.1" x2="95.07" y2="632.5"/>
<line x1="99.53" y1="591.9" x2="99.53" y2="634.8"/>
<line x1="104.00" y1="580.0" x2="104.00" y2="626.7"/>
<line x1="108.47" y1="555.0" x2="108.47" y2="608.7"/>
<line x1="112.93" y1="555.0" x2="112.93" y2="612.4"/>
<line x1="117.40" y1="567.8" x2="117.40" y2="620.0"/>
<line x1="121.87" y1="571.8" x2="121.87" y2="625.0"/>
<line x1="126.33" y1="554.0" x2="126.33" y2="603.5"/>
<line x1="130.80" y1="558.0" x2="130.80" y2="606.4"/>
<line x1="135.27" y1="579.3" x2="135.27" y2="621.4"/>
<line x1="139.73" y1="556.2" x2="139.73" y2="617.7"/>
<line x1="144.20" y1="580.8" x2="144.20" y2="629.4"/>
<line x1="148.67" y1="559.8" x2="148.67" y2="610.9"/>
<line x1="153.13" y1="528.9" x2="153.13" y2="593.7"/>
<line x1="157.60" y1="525.7" x2="157.60" y2="593.7"/>
<line x1="162.07" y1="537.8" x2="162.07" y2="594.5"/>
<line x1="166.53" y1="519.2" x2="166.53" y2="576.7"/>
<line x1="171.00" y1="515.9" x2="171.00" y2="587.2"/>
<line x1="175.47" y1="517.2" x2="175.47" y2="579.1"/>
<line x1="179.93" y1="524.8" x2="179.93" y2="584.8"/>
<line x1="184.40" y1="515.1" x2="184.40" y2="597.7"/>
<line x1="188.87" y1="517.5" x2="188.87" y2="585.6"/>
<line x1="193.33" y1="527.4" x2="193.33" y2="581.5"/>
<line x1="197.80" y1="488.5" x2="197.80" y2="575.1"/>
<line x1="202.27" y1="528.5" x2="202.27" y2="593.3"/>
<line x1="206.73" y1="529.3" x2="206.73" y2="588.2"/>
<line x1="211.20" y1="520.6" x2="211.20" y2="592.0"/>
<line x1="215.67" y1="547.8" x2="215.67" y2="599.6"/>
<line x1="220.13" y1="519.1" x2="220.13" y2="583.7"/>
<line x1="224.60" y1="547.3" x2="224.60" y2="603.6"/>
<line x1="229.07" y1="514.4" x2="229.07" y2="588.2"/>
<line x1="233.53" y1="532.9" x2="233.53" y2="602.0"/>
<line x1="238.00" y1="535.5" x2="238.00" y2="589.9"/>
<line x1="242.47" y1="542.5" x2="242.47" y2="602.0"/>
<line x1="246.93" y1="519.3" x2="246.93" y2="586.2"/>
<line x1="251.40" y1="540.9" x2="251.40" y2="594.0"/>
<line x1="255.87" y1="525.3" x2="255.87" y2="584.4"/>
<line x1="260.33" y1="516.2" x2="260.33" y2="583.5"/>
<line x1="264.80" y1="525.7" x2="264.80" y2="590.4"/>
<line x1="269.27" y1="525.7" x2="269.27" y2="583.5"/>
<line x1="273.73" y1="513.4" x2="273.73" y2="576.2"/>
<line x1="278.20" y1="538.0" x2="278.20" y2="584.4"/>
<line x1="282.67" y1="506.4" x2="282.67" y2="570.3"/>
<line x1="287.13" y1="537.5" x2="287.13" y2="594.4"/>
<line x1="291.60" y1="485.9" x2="291.60" y2="551.5"/>
<line x1="296.07" y1="513.4" x2="296.07" y2="579.4"/>
<line x1="300.53" y1="517.2" x2="300.53" y2="584.9"/>
<line x1="305.00" y1="512.7" x2="305.00" y2="580.4"/>
<line x1="309.47" y1="484.5" x2="309.47" y2="572.6"/>
<line x1="313.93" y1="491.1" x2="313.93" y2="559.4"/>
<line x1="318.40" y1="507.8" x2="318.40" y2="575.3"/>
<line x1="322.87" y1="497.7" x2="322.87" y2="565.7"/>
<line x1="327.33" y1="486.9" x2="327.33" y2="566.7"/>
<line x1="331.80" y1="525.6" x2="331.80" y2="586.7"/>
<line x1="336.27" y1="491.1" x2="336.27" y2="563.0"/>
<line x1="340.73" y1="499.6" x2="340.73" y2="580.4"/>
<line x1="345.20" y1="497.1" x2="345.20" y2="557.1"/>
<line x1="349.67" y1="500.2" x2="349.67" y2="563.5"/>
<line x1="354.13" y1="518.3" x2="354.13" y2="584.0"/>
<line x1="358.60" y1="501.5" x2="358.60" y2="585.3"/>
<line x1="363.07" y1="498.1" x2="363.07" y2="578.3"/>
<line x1="367.53" y1="527.5" x2="367.53" y2="590.6"/>
<line x1="372.00" y1="501.0" x2="372.00" y2="562.6"/>
<line x1="376.47" y1="512.9" x2="376.47" y2="576.5"/>
<line x1="380.93" y1="513.7" x2="380.93" y2="579.2"/>
<line x1="385.40" y1="483.9" x2="385.40" y2="557.1"/>
<line x1="389.87" y1="491.5" x2="389.87" y2="559.4"/>
<line x1="394.33" y1="487.1" x2="394.33" y2="554.0"/>
<line x1="398.80" y1="485.2" x2="398.80" y2="553.0"/>
<line x1="403.27" y1="464.0" x2="403.27" y2="548.0"/>
<line x1="407.73" y1="483.0" x2="407.73" y2="552.2"/>
<line x1="412.20" y1="498.8" x2="412.20" y2="570.7"/>
<line x1="416.67" y1="484.2" x2="416.67" y2="553.4"/>
<line x1="421.13" y1="479.6" x2="421.13" y2="548.2"/>
<line x1="425.60" y1="494.2" x2="425.60" y2="556.4"/>
<line x1="430.07" y1="481.0" x2="430.07" y2="557.7"/>
<line x1="434.53" y1="502.4" x2="434.53" y2="558.6"/>
<line x1="439.00" y1="503.7" x2="439.00" y2="556.8"/>
<line x1="443.47" y1="493.7" x2="443.47" y2="543.3"/>
<line x1="447.93" y1="487.6" x2="447.93" y2="543.3"/>
<line x1="452.40" y1="474.7" x2="452.40" y2="530.9"/>
<line x1="456.87" y1="444.0" x2="456.87" y2="512.5"/>
<line x1="461.33" y1="491.8" x2="461.33" y2="539.2"/>
<line x1="465.80" y1="451.3" x2="465.80" y2="515.5"/>
<line x1="470.27" y1="449.2" x2="470.27" y2="523.3"/>
<line x1="474.73" y1="431.2" x2="474.73" y2="511.9"/>
<line x1="479.20" y1="452.0" x2="479.20" y2="529.9"/>
<line x1="483.67" y1="463.4" x2="483.67" y2="532.8"/>
<line x1="488.13" y1="446.3" x2="488.13" y2="539.4"/>
<line x1="492.60" y1="465.3" x2="492.60" y2="540.4"/>
<line x1="497.07" y1="455.8" x2="497.07" y2="539.4"/>
<line x1="501.53" y1="456.4" x2="501.53" y2="539.4"/>
<line x1="506.00" y1="442.0" x2="506.00" y2="533.7"/>
</g>
<line x1="37" y1="614.8" x2="501" y2="492.4" stroke="#ea0c0c" stroke-width="1.6"/>
<g stroke="#000" stroke-width="3.6" stroke-linecap="round">
<line x1="37.00" y1="667.3" x2="37.00" y2="687.7"/>
<line x1="41.47" y1="664.5" x2="41.47" y2="683.7"/>
<line x1="45.93" y1="663.3" x2="45.93" y2="684.3"/>
<line x1="50.40" y1="660.3" x2="50.40" y2="687.7"/>
<line x1="54.87" y1="650.5" x2="54.87" y2="679.1"/>
<line x1="59.33" y1="657.8" x2="59.33" y2="679.1"/>
<line x1="63.80" y1="659.7" x2="63.80" y2="680.8"/>
<line x1="68.27" y1="646.3" x2="68.27" y2="668.2"/>
<line x1="72.73" y1="640.8" x2="72.73" y2="667.0"/>
<line x1="77.20" y1="635.6" x2="77.20" y2="664.7"/>
<line x1="81.67" y1="645.3" x2="81.67" y2="669.3"/>
<line x1="86.13" y1="662.0" x2="86.13" y2="678.5"/>
<line x1="90.60" y1="647.5" x2="90.60" y2="667.8"/>
<line x1="95.07" y1="643.0" x2="95.07" y2="668.4"/>
<line x1="99.53" y1="655.1" x2="99.53" y2="674.5"/>
<line x1="104.00" y1="656.4" x2="104.00" y2="673.3"/>
<line x1="108.47" y1="656.4" x2="108.47" y2="673.9"/>
<line x1="112.93" y1="657.3" x2="112.93" y2="679.3"/>
<line x1="117.40" y1="645.4" x2="117.40" y2="665.9"/>
<line x1="121.87" y1="656.4" x2="121.87" y2="676.9"/>
<line x1="126.33" y1="638.1" x2="126.33" y2="670.2"/>
<line x1="130.80" y1="616.8" x2="130.80" y2="658.7"/>
<line x1="135.27" y1="633.2" x2="135.27" y2="660.5"/>
<line x1="139.73" y1="644.2" x2="139.73" y2="664.1"/>
<line x1="144.20" y1="650.3" x2="144.20" y2="668.7"/>
<line x1="148.67" y1="636.0" x2="148.67" y2="661.8"/>
<line x1="153.13" y1="652.9" x2="153.13" y2="673.3"/>
<line x1="157.60" y1="618.4" x2="157.60" y2="664.5"/>
<line x1="162.07" y1="640.0" x2="162.07" y2="667.9"/>
<line x1="166.53" y1="640.0" x2="166.53" y2="664.5"/>
<line x1="171.00" y1="633.3" x2="171.00" y2="660.4"/>
<line x1="175.47" y1="631.9" x2="175.47" y2="661.8"/>
<line x1="179.93" y1="636.6" x2="179.93" y2="663.8"/>
<line x1="184.40" y1="621.7" x2="184.40" y2="657.7"/>
<line x1="188.87" y1="638.7" x2="188.87" y2="666.5"/>
<line x1="193.33" y1="650.2" x2="193.33" y2="672.6"/>
<line x1="197.80" y1="629.8" x2="197.80" y2="667.7"/>
<line x1="202.27" y1="614.3" x2="202.27" y2="661.3"/>
<line x1="206.73" y1="634.6" x2="206.73" y2="669.4"/>
<line x1="211.20" y1="623.3" x2="211.20" y2="659.7"/>
<line x1="215.67" y1="627.3" x2="215.67" y2="662.9"/>
<line x1="220.13" y1="624.1" x2="220.13" y2="662.9"/>
<line x1="224.60" y1="650.1" x2="224.60" y2="675.9"/>
<line x1="229.07" y1="631.4" x2="229.07" y2="662.1"/>
<line x1="233.53" y1="629.8" x2="233.53" y2="653.1"/>
<line x1="238.00" y1="624.9" x2="238.00" y2="658.0"/>
<line x1="242.47" y1="624.1" x2="242.47" y2="662.1"/>
<line x1="246.93" y1="620.8" x2="246.93" y2="658.0"/>
<line x1="251.40" y1="625.5" x2="251.40" y2="657.2"/>
<line x1="255.87" y1="615.0" x2="255.87" y2="653.7"/>
<line x1="260.33" y1="640.5" x2="260.33" y2="664.2"/>
<line x1="264.80" y1="615.8" x2="264.80" y2="648.4"/>
<line x1="269.27" y1="612.3" x2="269.27" y2="644.9"/>
<line x1="273.73" y1="626.7" x2="273.73" y2="651.9"/>
<line x1="278.20" y1="631.7" x2="278.20" y2="654.6"/>
<line x1="282.67" y1="609.7" x2="282.67" y2="639.6"/>
<line x1="287.13" y1="623.7" x2="287.13" y2="659.0"/>
<line x1="291.60" y1="629.0" x2="291.60" y2="657.2"/>
<line x1="296.07" y1="632.5" x2="296.07" y2="657.2"/>
<line x1="300.53" y1="618.5" x2="300.53" y2="645.8"/>
<line x1="305.00" y1="605.0" x2="305.00" y2="644.6"/>
<line x1="309.47" y1="619.9" x2="309.47" y2="651.6"/>
<line x1="313.93" y1="617.3" x2="313.93" y2="650.7"/>
<line x1="318.40" y1="603.2" x2="318.40" y2="642.8"/>
<line x1="322.87" y1="607.6" x2="322.87" y2="638.4"/>
<line x1="327.33" y1="620.8" x2="327.33" y2="650.7"/>
<line x1="331.80" y1="622.5" x2="331.80" y2="656.0"/>
<line x1="336.27" y1="607.9" x2="336.27" y2="645.4"/>
<line x1="340.73" y1="633.1" x2="340.73" y2="659.5"/>
<line x1="345.20" y1="631.3" x2="345.20" y2="655.1"/>
<line x1="349.67" y1="628.7" x2="349.67" y2="656.9"/>
<line x1="354.13" y1="614.3" x2="354.13" y2="645.4"/>
<line x1="358.60" y1="629.3" x2="358.60" y2="653.9"/>
<line x1="363.07" y1="601.1" x2="363.07" y2="645.1"/>
<line x1="367.53" y1="593.2" x2="367.53" y2="639.0"/>
<line x1="372.00" y1="605.5" x2="372.00" y2="641.6"/>
<line x1="376.47" y1="579.1" x2="376.47" y2="624.9"/>
<line x1="380.93" y1="619.6" x2="380.93" y2="652.2"/>
<line x1="385.40" y1="622.2" x2="385.40" y2="649.5"/>
<line x1="389.87" y1="606.4" x2="389.87" y2="643.4"/>
<line x1="394.33" y1="593.2" x2="394.33" y2="635.4"/>
<line x1="398.80" y1="622.2" x2="398.80" y2="653.9"/>
<line x1="403.27" y1="594.9" x2="403.27" y2="644.2"/>
<line x1="407.73" y1="621.3" x2="407.73" y2="653.9"/>
<line x1="412.20" y1="603.4" x2="412.20" y2="631.6"/>
<line x1="416.67" y1="608.7" x2="416.67" y2="644.8"/>
<line x1="421.13" y1="622.8" x2="421.13" y2="656.2"/>
<line x1="425.60" y1="620.1" x2="425.60" y2="643.9"/>
<line x1="430.07" y1="623.6" x2="430.07" y2="658.0"/>
<line x1="434.53" y1="610.5" x2="434.53" y2="643.0"/>
<line x1="439.00" y1="599.0" x2="439.00" y2="636.0"/>
<line x1="443.47" y1="595.5" x2="443.47" y2="636.0"/>
<line x1="447.93" y1="624.5" x2="447.93" y2="654.5"/>
<line x1="452.40" y1="592.9" x2="452.40" y2="635.1"/>
<line x1="456.87" y1="600.8" x2="456.87" y2="641.3"/>
<line x1="461.33" y1="574.4" x2="461.33" y2="631.6"/>
<line x1="465.80" y1="583.8" x2="465.80" y2="633.7"/>
<line x1="470.27" y1="585.5" x2="470.27" y2="639.4"/>
<line x1="474.73" y1="581.1" x2="474.73" y2="632.9"/>
<line x1="479.20" y1="594.9" x2="479.20" y2="641.0"/>
<line x1="483.67" y1="605.4" x2="483.67" y2="634.5"/>
<line x1="488.13" y1="584.8" x2="488.13" y2="636.1"/>
<line x1="492.60" y1="587.3" x2="492.60" y2="630.5"/>
<line x1="497.07" y1="586.8" x2="497.07" y2="631.3"/>
<line x1="501.53" y1="576.2" x2="501.53" y2="627.2"/>
<line x1="506.00" y1="570.2" x2="506.00" y2="626.4"/>
</g>
<line x1="37" y1="667.5" x2="500" y2="612.6" stroke="#000" stroke-width="1.6"/>
</svg></body></html>
